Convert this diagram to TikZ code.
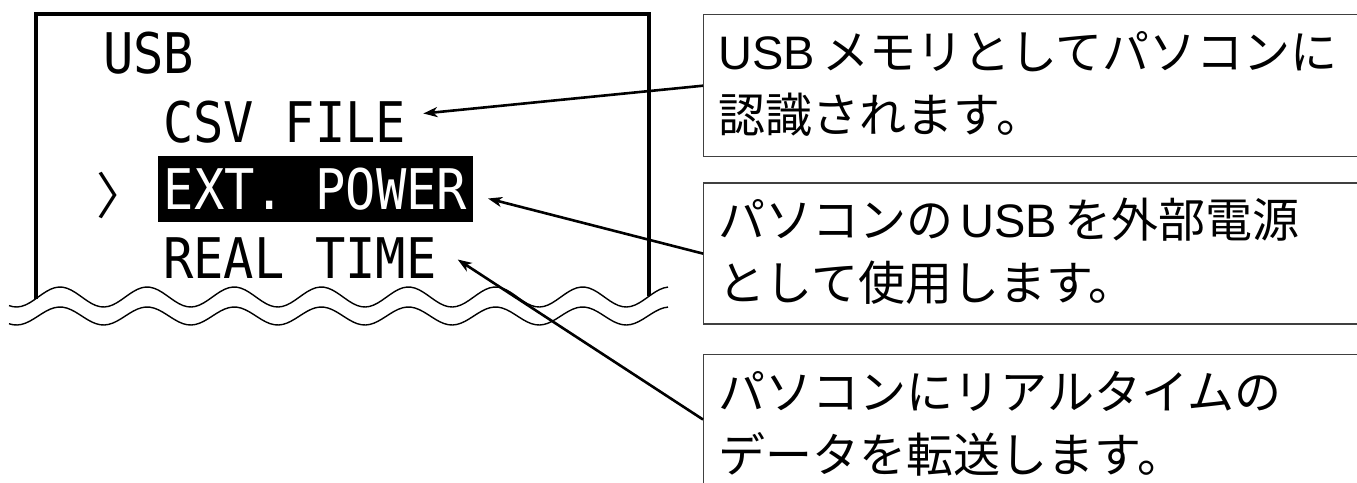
\documentclass[tikz,border=0pt]{standalone}
\usepackage{fontspec}
\usetikzlibrary{positioning,arrows.meta}

\newfontfamily\lcdfont[FakeStretch=0.9]{DejaVu Sans Mono}
\newfontfamily\jpfont{Noto Sans CJK JP}
\newfontfamily\arialfont{Liberation Sans}
\newcommand{\lat}[1]{{\arialfont #1}}
% fixed line heights inside the note boxes
\newcommand{\firstrow}{\rule[-22pt]{0pt}{76pt}}
\newcommand{\secondrow}{\rule[-24pt]{0pt}{65pt}}

\begin{document}
\begin{tikzpicture}[x=1pt,y=-1pt,>={Stealth[length=14pt,width=10pt,inset=4pt]},line width=2.6pt,
    lcd/.style={inner sep=0pt,anchor=base west,font=\lcdfont\fontsize{56}{60}\selectfont,text height=41pt,text depth=0pt},
    note/.style={draw=black!75,line width=1.4pt,anchor=north west,inner xsep=15pt,inner ysep=0pt,text width=770pt,align=left,font=\jpfont\fontsize{47}{63}\selectfont},
    wave/.style={line width=1.4pt}]

    \useasboundingbox (0,0) rectangle (1357,482);
    \clip (0,0) rectangle (1357,482);

    % display
    \draw[line width=3.3pt] (36,299) -- (36,14) -- (649,14) -- (649,296);
    \draw[wave] plot[domain=9:668,samples=160] (\x,{297-10*cos(4.133*(\x-60))});
    \draw[wave] plot[domain=9:668,samples=160] (\x,{316-9*cos(4.133*(\x-60))});

    \node (usb) [lcd] at (102,73) {USB};
    \node (csv) [lcd] at (162,142) {CSV FILE};
    \node (cursor) [lcd,font=\jpfont\fontsize{50}{54}\selectfont] at (95,214) {〉};
    \node (ext) [lcd,fill=black,text=white,inner xsep=5.5pt,inner ysep=12.5pt] at (157,209) {EXT. POWER};
    \node (real) [lcd] at (162,278) {REAL TIME};

    % notes
    \node (mem) [note,minimum height=142pt] at (703,14) {\firstrow\lat{USB}\hspace{7pt}メモリとしてパソコンに\\\secondrow 認識されます。};
    \node (pwr) [note,minimum height=139pt,below=25pt of mem] {\firstrow パソコンの\hspace{7pt}\lat{USB}\hspace{7pt}を外部電源\\\secondrow として使用します。};
    \node (rt) [note,minimum height=142pt,below=29pt of pwr] {\firstrow パソコンにリアルタイムの\\\secondrow データを転送します。};

    \path[->]
        (mem.west) edge ([xshift=16pt,yshift=8pt]csv.east)
        (pwr.west) edge ([xshift=14pt,yshift=-10pt]ext.east)
        ([yshift=6pt]rt.west) edge ([xshift=20pt,yshift=-2pt]real.east)
    ;
\end{tikzpicture}
\end{document}
